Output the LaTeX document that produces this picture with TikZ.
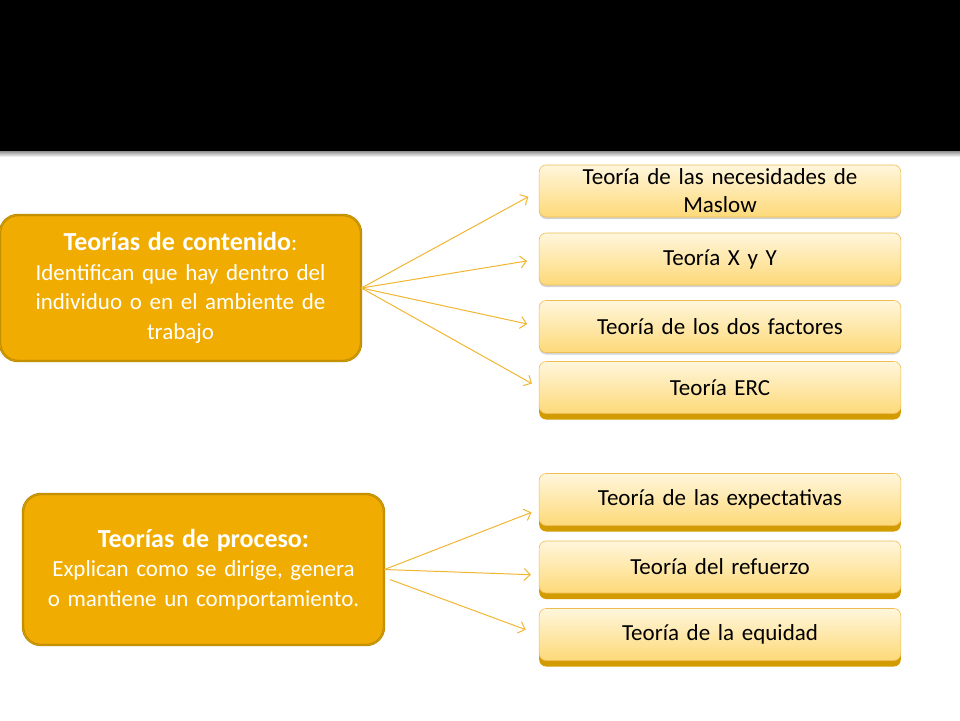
\documentclass[tikz,border=0pt]{standalone}
\usepackage{fontspec}
\setmainfont{Carlito}
\usetikzlibrary{shadows}
\usetikzlibrary{arrows.meta}
\definecolor{gold}{HTML}{F0AC00}
\definecolor{golddark}{HTML}{B88800}
\definecolor{goldmid}{HTML}{D9A000}
\definecolor{subtop}{HTML}{FFF6DC}
\definecolor{subbot}{HTML}{FDD978}
\definecolor{subedge}{HTML}{EDBE55}
\definecolor{subbase}{HTML}{D29B00}
\definecolor{arrowgold}{HTML}{F0B632}

\tikzset{
	mainbox/.style={draw=golddark, double=goldmid, double distance=0.8pt, line width=0.8pt,
		fill=gold, rounded corners=18pt,
		minimum width=361pt, minimum height=146pt, text width=350pt, align=center,
		text=white, font=\fontsize{23}{29.5}\selectfont},
	subbox/.style={draw=subedge, line width=0.6pt, rounded corners=7pt,
		top color=subtop, bottom color=subbot, minimum width=361pt, minimum height=52pt,
		text width=355pt, align=center, font=\fontsize{23}{28}\selectfont,
		drop shadow={shadow xshift=0pt, shadow yshift=-2pt, fill=gray, opacity=0.35}},
	basebox/.style={subbox, drop shadow={shadow xshift=0pt, shadow yshift=-6pt, fill=subbase, opacity=1}},
	link/.style={draw=arrowgold, line width=1pt, -{Straight Barb[length=6pt, width=12pt]}, shorten >=12pt}
}

\begin{document}
\begin{tikzpicture}[x=1pt, y=-1pt]
	\useasboundingbox (0,0) rectangle (960,720);
	% title bar
	\fill[black] (0,0) rectangle (960,151);
	\fill[top color=gray!80, bottom color=white] (0,151.5) rectangle (960,157);

	% left boxes
	\node[mainbox] (contenido) at (180.5,288) {{\fontsize{26}{29.5}\selectfont\bfseries Teorías de contenido}:\\Identifican que hay dentro del\\individuo o en el ambiente de\\trabajo};
	\node[mainbox, minimum height=151pt] (proceso) at (203.5,569.5) {{\fontsize{26}{29.5}\selectfont\bfseries Teorías de proceso:}\\Explican como se dirige, genera\\o mantiene un comportamiento.};

	% right boxes
	\node[subbox] (maslow) at (720,191) {Teoría de las necesidades de\\Maslow};
	\node[subbox] (xy) at (720,259) {Teoría X y Y};
	\node[subbox] (factores) at (720,326.5) {Teoría de los dos factores};
	\node[basebox] (erc) at (720,387.5) {Teoría ERC};
	\node[basebox] (expect) at (720,499.5) {Teoría de las expectativas};
	\node[basebox] (refuerzo) at (720,567) {Teoría del refuerzo};
	\node[basebox] (equidad) at (720,634.5) {Teoría de la equidad};

	% links
	\path[link] (contenido.east) -- (maslow.west);
	\path[link] (contenido.east) -- (xy.west);
	\path[link] (contenido.east) -- (factores.west);
	\path[link, shorten >=8pt] (contenido.east) -- (erc.west);
	\path[link, shorten >=8pt] (proceso.east) -- ([yshift=-10pt]expect.west);
	\path[link, shorten >=8pt] (proceso.east) -- ([yshift=-8pt]refuerzo.west);
	\path[link, shorten <=6pt, shorten >=14pt] ([yshift=-8pt]proceso.east) -- (equidad.west);
\end{tikzpicture}
\end{document}
